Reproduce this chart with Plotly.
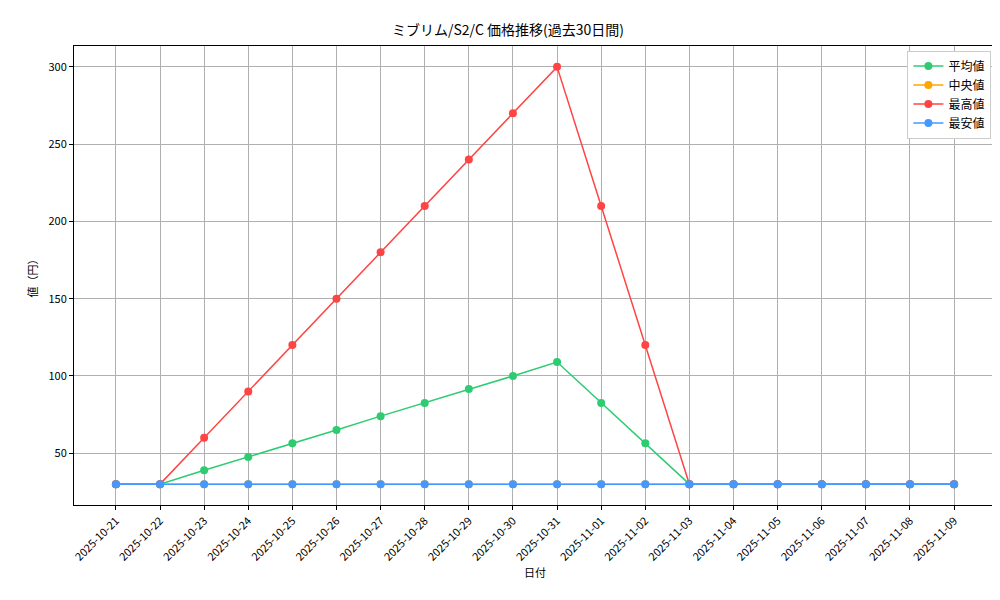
import plotly.graph_objects as go

dates = ["2025-10-21", "2025-10-22", "2025-10-23", "2025-10-24", "2025-10-25",
         "2025-10-26", "2025-10-27", "2025-10-28", "2025-10-29", "2025-10-30",
         "2025-10-31", "2025-11-01", "2025-11-02", "2025-11-03", "2025-11-04",
         "2025-11-05", "2025-11-06", "2025-11-07", "2025-11-08", "2025-11-09"]
avg_vals = [30, 30, 39, 47.5, 56.5, 65, 74, 82.5, 91.5, 100, 109, 82.5, 56.5,
            30, 30, 30, 30, 30, 30, 30]
median_vals = [30] * 20
max_vals = [30, 30, 60, 90, 120, 150, 180, 210, 240, 270, 300, 210, 120,
            30, 30, 30, 30, 30, 30, 30]
min_vals = [30] * 20

FONT = "Noto Sans CJK JP"

series = [
    ("平均値", avg_vals, "#2ecc71"),
    ("中央値", median_vals, "#ffa500"),
    ("最高値", max_vals, "#ff4444"),
    ("最安値", min_vals, "#4499ff"),
]

fig = go.Figure()
for name, vals, color in series:
    fig.add_trace(go.Scatter(
        x=list(range(len(dates))), y=vals, name=name, mode="lines+markers",
        line=dict(color=color, width=1.5), marker=dict(color=color, size=8),
    ))

axis_common = dict(
    showgrid=True, gridcolor="#b0b0b0", gridwidth=1,
    showline=True, linecolor="black", mirror=True, zeroline=False,
    ticks="outside", ticklen=4, tickcolor="black", automargin=False,
    tickfont=dict(size=11, color="black"),
)

fig.update_xaxes(
    **axis_common,
    tickmode="array", tickvals=list(range(len(dates))), ticktext=dates,
    tickangle=-45, range=[-0.95, len(dates) - 0.05],
    title=dict(text="日付", font=dict(size=11, color="black"), standoff=6),
)
fig.update_yaxes(
    **axis_common,
    range=[16.5, 313.5], tickvals=[50, 100, 150, 200, 250, 300],
    title=dict(text="値（円）", font=dict(size=11, color="black"), standoff=8),
)

fig.update_layout(
    width=1000, height=600,
    paper_bgcolor="white", plot_bgcolor="white",
    font=dict(family=FONT, color="black"),
    margin=dict(l=66, r=12, t=38, b=103, autoexpand=False),
    title=dict(text="ミブリム/S2/C 価格推移(過去30日間)", x=0.5, xanchor="center",
               y=0.963, yanchor="middle", font=dict(size=14, color="black")),
    legend=dict(x=0.995, y=0.99, xanchor="right", yanchor="top",
                bordercolor="#cccccc", borderwidth=1, bgcolor="white",
                font=dict(size=12)),
    showlegend=True,
)

fig.write_html("out.html")
